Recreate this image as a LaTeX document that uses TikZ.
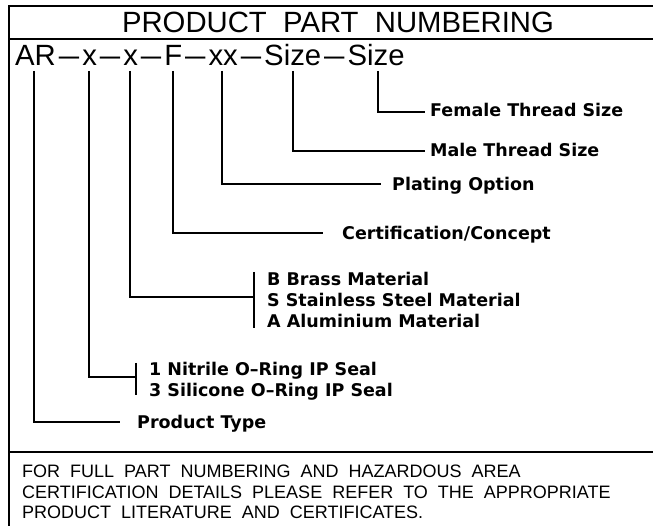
\documentclass[tikz,border=0pt]{standalone}
\usepackage{graphicx}
\usepackage{fontspec}
\setmainfont{Liberation Sans}
\newfontfamily\titlefont[WordSpace=2.4]{Liberation Sans}
\newfontfamily\footfont[WordSpace=2]{Liberation Sans}
\newfontfamily\lblfont{DejaVu Sans}
\newcommand\pdash{\kern3pt\scalebox{1.25}[1]{–}\kern3pt}
\begin{document}
\begin{tikzpicture}[x=1pt,y=-1pt,
  frameline/.style={line width=1.8pt},
  conn/.style={line width=1.8pt},
  lbl/.style={anchor=base west, inner sep=0pt, font=\lblfont\bfseries\fontsize{17.5}{21}\selectfont},
  foot/.style={anchor=base west, inner sep=0pt, font=\footfont\fontsize{18}{21}\selectfont}]
\useasboundingbox (0,0) rectangle (653,526);
% frame
\draw[frameline] (660,6) -- (9,6) -- (9,530);
\draw[frameline] (9,39) -- (660,39);
\draw[frameline] (9,452) -- (660,452);
% title and part number
\node[anchor=base, inner sep=0pt, font=\titlefont\fontsize{29.3}{32}\selectfont] (title) at (338,33) {PRODUCT PART NUMBERING};
\node[anchor=base west, inner sep=0pt, font=\fontsize{29.3}{32}\selectfont] (pn) at (15,66) {AR\pdash x\pdash x\pdash F\pdash xx\pdash Size\pdash Size};
% tick tops
\coordinate (tA) at (34,71);
\coordinate (tX1) at (89,71);
\coordinate (tX2) at (130,71);
\coordinate (tF) at (173,71);
\coordinate (tXX) at (222,71);
\coordinate (tS1) at (293,71);
\coordinate (tS2) at (378,71);
% connector ends
\coordinate (eA) at (120,422);
\coordinate (eX1) at (136,377);
\coordinate (eX2) at (254,297);
\coordinate (eF) at (323,233);
\coordinate (eXX) at (381,184);
\coordinate (eS1) at (425,151);
\coordinate (eS2) at (425,112);
% bracket bars
\coordinate (b1t) at (136,363);
\coordinate (b1b) at (136,395);
\coordinate (b2t) at (254,272);
\coordinate (b2b) at (254,328);
% labels
\node[lbl] (lS2) at (430,117) {Female Thread Size};
\node[lbl] (lS1) at (430,157) {Male Thread Size};
\node[lbl] (lXX) at (392,191) {Plating Option};
\node[lbl] (lF) at (342,240) {Certification/Concept};
\node[lbl] (lB) at (267,286) {B Brass Material};
\node[lbl] (lS) at (267,307) {S Stainless Steel Material};
\node[lbl] (lAl) at (267,328) {A Aluminium Material};
\node[lbl] (l1) at (149,375) {1 Nitrile O–Ring IP Seal};
\node[lbl] (l3) at (149,396) {3 Silicone O–Ring IP Seal};
\node[lbl] (lA) at (137,428) {Product Type};
% connectors
\draw[conn] (tA) |- (eA);
\draw[conn] (tX1) |- (eX1);
\draw[conn] (tX2) |- (eX2);
\draw[conn] (tF) |- (eF);
\draw[conn] (tXX) |- (eXX);
\draw[conn] (tS1) |- (eS1);
\draw[conn] (tS2) |- (eS2);
\draw[conn] (b1t) -- (b1b);
\draw[conn] (b2t) -- (b2b);
% footer
\node[foot] (f1) at (22,477) {FOR FULL PART NUMBERING AND HAZARDOUS AREA};
\node[foot] (f2) at (22,498) {CERTIFICATION DETAILS PLEASE REFER TO THE APPROPRIATE};
\node[foot] (f3) at (22,518) {PRODUCT LITERATURE AND CERTIFICATES.};
\end{tikzpicture}
\end{document}
